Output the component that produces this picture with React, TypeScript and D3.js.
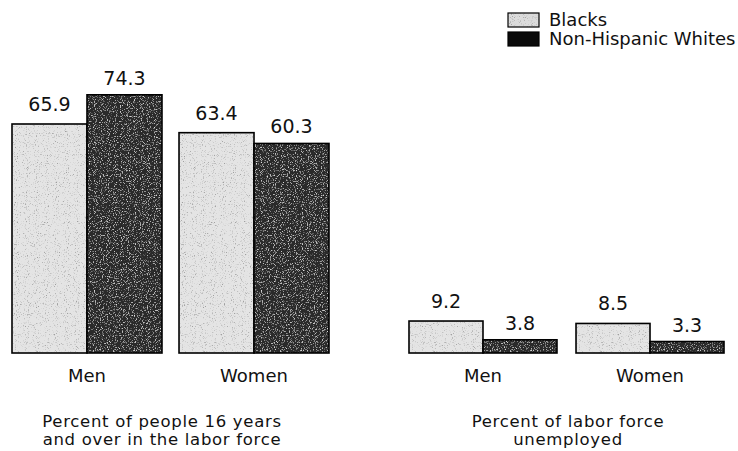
import React from "react";
import * as d3 from "d3";

const groups = ["Men", "Women"];
const seriesNames = ["Blacks", "Non-Hispanic Whites"];
const laborForce = [
  { group: "Men", Blacks: 65.9, "Non-Hispanic Whites": 74.3 },
  { group: "Women", Blacks: 63.4, "Non-Hispanic Whites": 60.3 },
];
const unemployed = [
  { group: "Men", Blacks: 9.2, "Non-Hispanic Whites": 3.8 },
  { group: "Women", Blacks: 8.5, "Non-Hispanic Whites": 3.3 },
];
const panelTitles = [
  ["Percent of people 16 years", "and over in the labor force"],
  ["Percent of labor force", "unemployed"],
];

const W = 738;
const H = 451;
const FONT = "'DejaVu Sans', sans-serif";
const baseY = 353;

const y = d3.scaleLinear().domain([0, 100]).range([baseY, 5.5]);

const panels = [
  { data: laborForce, range: [12, 329] as [number, number], pad: 0.102, title: panelTitles[0], titleX: 162 },
  { data: unemployed, range: [409, 724] as [number, number], pad: 0.114, title: panelTitles[1], titleX: 568 },
];

const fills: Record<string, string> = { Blacks: "#e4e4e4", "Non-Hispanic Whites": "#2a2a2a" };
const filters: Record<string, string> = { Blacks: "url(#grainLight)", "Non-Hispanic Whites": "url(#grainDark)" };
const labelGap: Record<string, number> = { Blacks: 13, "Non-Hispanic Whites": 10 };

export default function App() {
  return (
    <svg width={W} height={H} style={{ display: "block", position: "absolute", left: 0, top: 0, background: "#fff" }}>
      <defs>
        <filter id="grainLight" x="0" y="0" width="1" height="1">
          <feTurbulence type="fractalNoise" baseFrequency="0.9" numOctaves="2" seed="4" result="n" />
          <feColorMatrix in="n" type="matrix" values="0 0 0 0 0.35  0 0 0 0 0.35  0 0 0 0 0.35  4 0 0 0 -2.3" result="dots" />
          <feComposite in="dots" in2="SourceAlpha" operator="in" result="dotsIn" />
          <feMerge>
            <feMergeNode in="SourceGraphic" />
            <feMergeNode in="dotsIn" />
          </feMerge>
        </filter>
        <filter id="grainDark" x="0" y="0" width="1" height="1">
          <feTurbulence type="fractalNoise" baseFrequency="0.85" numOctaves="2" seed="9" result="n" />
          <feColorMatrix in="n" type="matrix" values="0 0 0 0 0.75  0 0 0 0 0.75  0 0 0 0 0.75  3.5 0 0 0 -1.95" result="dots" />
          <feComposite in="dots" in2="SourceAlpha" operator="in" result="dotsIn" />
          <feMerge>
            <feMergeNode in="SourceGraphic" />
            <feMergeNode in="dotsIn" />
          </feMerge>
        </filter>
      </defs>

      {panels.map((p, pi) => {
        const x0 = d3.scaleBand<string>().domain(groups).range(p.range).paddingInner(p.pad);
        const x1 = d3.scaleBand<string>().domain(seriesNames).range([0, x0.bandwidth()]).padding(0);
        return (
          <g key={pi}>
            {p.data.map((d) => (
              <g key={d.group} transform={`translate(${x0(d.group)},0)`}>
                {seriesNames.map((s) => {
                  const v = (d as any)[s] as number;
                  const bx = x1(s)!;
                  const bw = x1.bandwidth();
                  return (
                    <g key={s}>
                      <rect
                        x={bx}
                        y={y(v)}
                        width={bw}
                        height={baseY - y(v)}
                        fill={fills[s]}
                        filter={filters[s]}
                      />
                      <rect
                        x={bx}
                        y={y(v)}
                        width={bw}
                        height={baseY - y(v)}
                        fill="none"
                        stroke="#000"
                        strokeWidth={1.6}
                      />
                      <text
                        x={bx + bw / 2}
                        y={y(v) - labelGap[s]}
                        textAnchor="middle"
                        fontFamily={FONT}
                        fontSize={19}
                        fill="#111"
                      >
                        {d3.format(".1f")(v)}
                      </text>
                    </g>
                  );
                })}
                <text
                  x={x0.bandwidth() / 2}
                  y={382}
                  textAnchor="middle"
                  fontFamily={FONT}
                  fontSize={18}
                  fill="#111"
                >
                  {d.group}
                </text>
              </g>
            ))}
            {p.title.map((t, i) => (
              <text
                key={i}
                x={p.titleX}
                y={427 + i * 18}
                textAnchor="middle"
                fontFamily={FONT}
                fontSize={16.5}
                letterSpacing={0.7}
                fill="#111"
              >
                {t}
              </text>
            ))}
          </g>
        );
      })}

      {seriesNames.map((s, i) => (
        <g key={s} transform={`translate(508,${13 + i * 19})`}>
          <rect x={0} y={0} width={31} height={14} fill={s === "Blacks" ? "#dcdcdc" : "#0a0a0a"} filter={s === "Blacks" ? "url(#grainLight)" : undefined} />
          <rect x={0} y={0} width={31} height={14} fill="none" stroke="#000" strokeWidth={1.2} />
          <text x={41} y={13} fontFamily={FONT} fontSize={18} fill="#111">
            {s}
          </text>
        </g>
      ))}
    </svg>
  );
}
